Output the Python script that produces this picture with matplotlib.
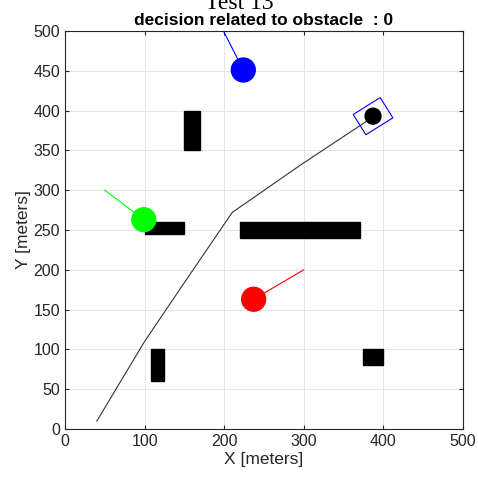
import numpy as np
import matplotlib
matplotlib.use("Agg")
import matplotlib.pyplot as plt
from matplotlib.patches import Rectangle, Circle

plt.rcParams["font.family"] = ["Liberation Sans", "DejaVu Sans"]

# obstacles: x, y, width, height
obs_x = [150, 100, 220, 108, 375]
obs_y = [350, 245, 240, 60, 80]
obs_w = [20, 50, 150, 16, 25]
obs_h = [50, 15, 20, 40, 20]

# vehicle path
path_x = [40, 100, 148, 210, 295, 387]
path_y = [10, 110, 181, 272, 331, 392]

# moving agents: center, heading line end, color
agent_x = [224, 99, 237]
agent_y = [451, 263, 163]
agent_end_x = [198, 50, 300]
agent_end_y = [502, 300, 200]
agent_col = ["#0000ff", "#00ff00", "#ff0000"]
agent_r = 15

robot_x, robot_y = 387, 393
robot_r = 10
box_w, box_h, box_ang = 40, 30, 32

fig = plt.figure(figsize=(4.78, 4.79), dpi=100)
ax = fig.add_axes([0.136, 0.1044, 0.8326, 0.8309])

for x, y, w, h in zip(obs_x, obs_y, obs_w, obs_h):
    ax.add_patch(Rectangle((x, y), w, h, color="black", zorder=3))

ax.plot(path_x, path_y, color="#333333", lw=0.8, zorder=4)

for cx, cy, ex, ey, c in zip(agent_x, agent_y, agent_end_x, agent_end_y, agent_col):
    ax.plot([cx, ex], [cy, ey], color=c, lw=0.8, zorder=4)
    ax.add_patch(Circle((cx, cy), agent_r, color=c, zorder=5))

# robot and its bounding box
ax.add_patch(Circle((robot_x, robot_y), robot_r, color="black", zorder=6))
t = np.deg2rad(box_ang)
ux, uy = np.cos(t), np.sin(t)
vx, vy = -np.sin(t), np.cos(t)
x0 = robot_x - box_w / 2 * ux - box_h / 2 * vx
y0 = robot_y - box_w / 2 * uy - box_h / 2 * vy
ax.add_patch(Rectangle((x0, y0), box_w, box_h, angle=box_ang, fill=False,
                       edgecolor="#0000ff", lw=0.8, zorder=6))

ax.set_xlim(0, 500)
ax.set_ylim(0, 500)
ax.set_xticks(np.arange(0, 501, 100))
ax.set_yticks(np.arange(0, 501, 50))
ax.grid(True, color="#e6e6e6", lw=0.7, zorder=0)
ax.set_axisbelow(True)
ax.tick_params(direction="in", length=3, labelsize=11.5, colors="#262626",
               top=True, right=True)
for s in ax.spines.values():
    s.set_color("#262626")
    s.set_linewidth(0.8)
ax.set_xlabel("X [meters]", fontsize=12.5, color="#262626", labelpad=2)
ax.set_ylabel("Y [meters]", fontsize=12.5, color="#262626", labelpad=2)
ax.set_title("decision related to obstacle  : 0", fontsize=12.5,
             fontweight="bold", pad=4)
fig.text(0.5, 0.982, "Test 13", family="Liberation Serif", fontsize=17,
         ha="center", va="baseline")

fig.savefig("out.png", dpi=100)
